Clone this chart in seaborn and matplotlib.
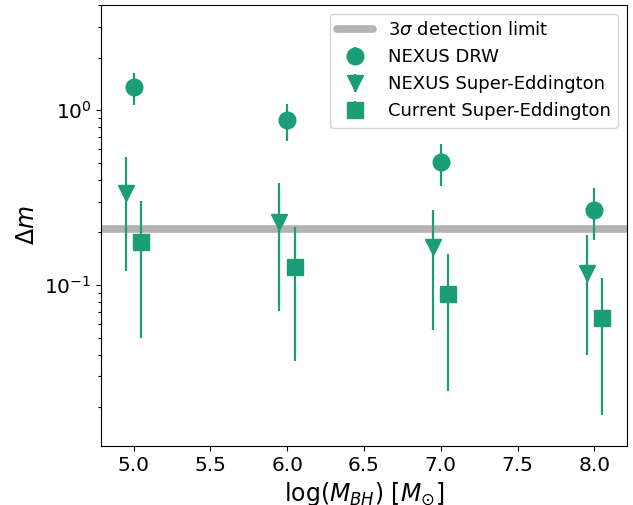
import numpy as np
import matplotlib
matplotlib.use("Agg")
import matplotlib.pyplot as plt
from matplotlib.ticker import LogLocator, NullFormatter
import seaborn as sns

# Data
mass = [5.0, 6.0, 7.0, 8.0]
drw = [1.35, 0.877, 0.505, 0.269]
drw_lo = [1.07, 0.665, 0.37, 0.182]
drw_hi = [1.63, 1.08, 0.64, 0.357]

nse = [0.334, 0.229, 0.164, 0.1175]
nse_lo = [0.12, 0.0713, 0.0553, 0.0395]
nse_hi = [0.54, 0.381, 0.268, 0.193]

cse = [0.177, 0.127, 0.0885, 0.0645]
cse_lo = [0.0498, 0.0368, 0.0246, 0.0181]
cse_hi = [0.302, 0.216, 0.150, 0.110]

det_limit = 0.21
offsets = [0.0, -0.05, 0.05]
labels = ["NEXUS DRW", "NEXUS Super-Eddington", "Current Super-Eddington"]

sns.set_style("ticks", rc={
    "axes.edgecolor": "black", "text.color": "black", "axes.labelcolor": "black",
    "xtick.color": "black", "ytick.color": "black",
    "xtick.major.size": 3.5, "ytick.major.size": 3.5,
    "xtick.minor.size": 2.5, "ytick.minor.size": 2.5,
    "xtick.major.width": 0.9, "ytick.major.width": 0.9,
    "xtick.minor.width": 0.8, "ytick.minor.width": 0.8,
    "axes.linewidth": 0.9,
})
plt.rcParams['font.family'] = ['DejaVu Sans']
color = sns.color_palette("Dark2")[0]

fig, ax = plt.subplots(figsize=(6.33, 5.05), dpi=100)
fig.subplots_adjust(left=0.16, right=0.99, top=0.99, bottom=0.117)

ax.axhline(det_limit, color="#b3b3b3", lw=5.5, label=r"3$\sigma$ detection limit", zorder=1)

series = [(drw, drw_lo, drw_hi, "o"), (nse, nse_lo, nse_hi, "v"), (cse, cse_lo, cse_hi, "s")]
for (vals, lo, hi, mk), off, lab in zip(series, offsets, labels):
    x = np.array(mass) + off
    v = np.array(vals)
    yerr = [v - np.array(lo), np.array(hi) - v]
    ax.errorbar(x, v, yerr=yerr, fmt=mk, color=color, ms=12 if mk != "s" else 11,
                elinewidth=1.6, capsize=0, label=lab, zorder=3)

ax.set_yscale("log")
ax.set_xlim(4.79, 8.21)
ax.set_ylim(0.012, 4.0)
ax.yaxis.set_minor_locator(LogLocator(base=10, subs=np.arange(2, 10), numticks=20))
ax.yaxis.set_minor_formatter(NullFormatter())
ax.set_xticks([5.0, 5.5, 6.0, 6.5, 7.0, 7.5, 8.0])
ax.tick_params(which="major", labelsize=14.5)
ax.tick_params(axis="y", which="minor", left=True, length=2.5, width=0.8, color="black")
ax.set_xlabel(r"$\log(M_{BH})\ [M_{\odot}]$", fontsize=17)
ax.set_ylabel(r"$\Delta m$", fontsize=17)
ax.legend(loc="upper right", fontsize=13, frameon=True)

fig.savefig("out.png", dpi=100)
